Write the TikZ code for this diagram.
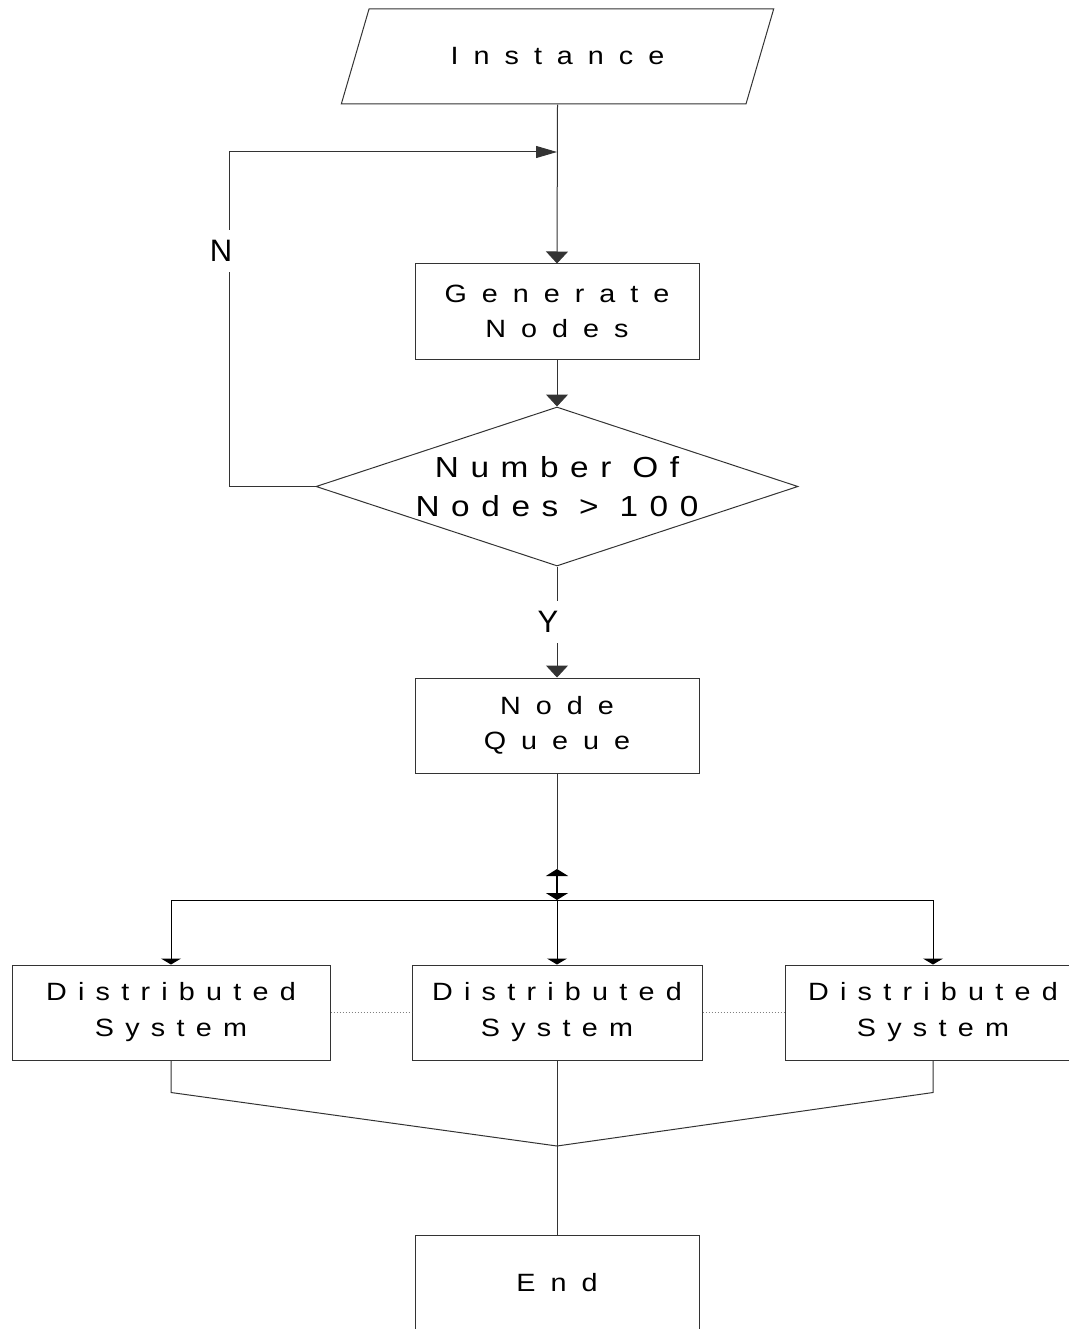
\documentclass[tikz,border=0pt]{standalone}
\usepackage{fontspec}
\setmainfont{Liberation Sans}
\newfontfamily\boxfont[FakeStretch=1.15,LetterSpace=60]{Liberation Sans}
\newfontfamily\distfont[FakeStretch=1.15,LetterSpace=45]{Liberation Sans}
\newfontfamily\decfont[FakeStretch=1.15,LetterSpace=40]{Liberation Sans}
\usetikzlibrary{shapes.geometric, arrows.meta, calc}

\begin{document}
\begin{tikzpicture}[x=1pt, y=-1pt,
    flowbox/.style={draw=black!80, line width=1pt, minimum width=284pt, minimum height=95pt, inner sep=0pt, align=center, font=\boxfont\fontsize{25}{35}\selectfont},
    distbox/.style={flowbox, font=\distfont\fontsize{25}{36}\selectfont},
    datain/.style={flowbox, trapezium, trapezium left angle=48, trapezium right angle=132, trapezium stretches=true, minimum width=433pt},
    decision/.style={draw=black!80, line width=1pt, diamond, aspect=3.03, minimum width=482pt, minimum height=159pt, inner xsep=-12pt, inner ysep=0pt, align=center, font=\decfont\fontsize{29}{39}\selectfont},
    lbl/.style={fill=white, inner xsep=2pt, inner ysep=10pt, font=\fontsize{31}{37}\selectfont},
    conn/.style={draw=black!80, line width=1pt},
    vconn/.style={conn, -{Triangle[length=12pt,width=22pt]}},
    hconn/.style={conn, -{Triangle[length=21pt,width=12pt]}},
    fanconn/.style={draw=black, line width=1pt, -{Triangle[length=6pt,width=20pt]}}]
    \useasboundingbox (0,0) rectangle (1068,1329);

    % Flow nodes
    \node[datain] (inst) at (557.5,56.5) {Instance};
    \node[flowbox] (gen) at (557,311.5) {Generate\\Nodes};
    \node[decision] (dec) at (557,486.5) {Number Of\\Nodes > 100};
    \node[flowbox] (queue) at (557,725.5) {Node\\Queue};
    \node[distbox, minimum width=318pt] (dsA) at (171,1012.5) {Distributed\\System};
    \node[distbox, minimum width=290pt] (dsB) at (557,1012.5) {Distributed\\System};
    \node[distbox, minimum width=296pt] (dsC) at (933,1012.5) {Distributed\\System};
    \node[flowbox] (done) at (557,1282.5) {End};

    % Junction points
    \coordinate (join) at (557,152);
    \coordinate (splittop) at (557,869);
    \coordinate (split) at (557,900);
    \coordinate (merge) at (557,1146);

    % Main flow and loop back
    \draw[vconn] (inst.center |- inst.south) -- (gen.north);
    \draw[hconn] (dec.west) -- ++(-86,0) |- (join);
    \node[lbl] (no) at (221,251) {N};
    \draw[vconn] (gen.south) -- (dec.north);
    \draw[vconn] (dec.south) -- node[lbl, xshift=-9pt] (yes) {Y} (queue.north);

    % Fan out to the systems
    \draw[conn] (queue.south) -- (splittop);
    \draw[draw=black, line width=2pt, {Triangle[length=7pt,width=22pt]}-{Triangle[length=7pt,width=22pt]}] (splittop) -- (split);
    \draw[fanconn] (split) -| (dsA.north);
    \draw[fanconn] (split) -- (dsB.north);
    \draw[fanconn] (split) -| (dsC.north);
    \draw[dotted, gray, line width=1pt] (dsA.east) -- (dsB.west);
    \draw[dotted, gray, line width=1pt] (dsB.east) -- (dsC.west);

    % Merge into the end
    \draw[conn] (dsA.south) -- ++(0,32) -- (merge);
    \draw[conn] (dsC.south) -- ++(0,32) -- (merge);
    \draw[conn] (dsB.south) -- (done.north);
\end{tikzpicture}
\end{document}
